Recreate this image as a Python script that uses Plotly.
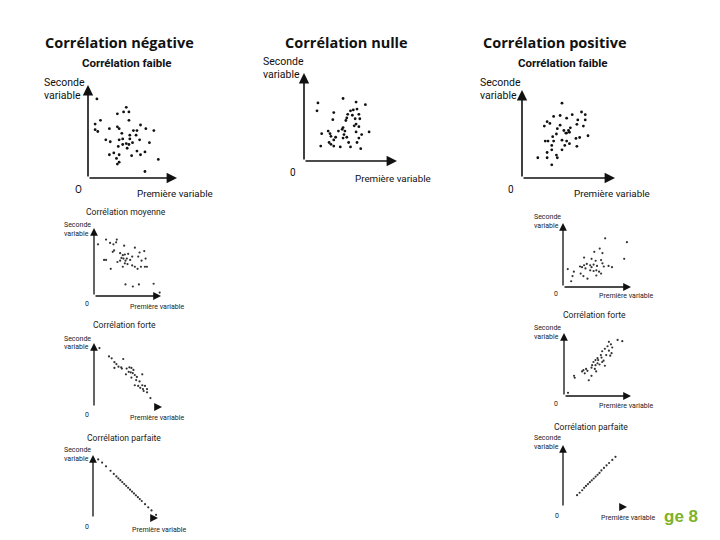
import plotly.graph_objects as go

# the page body has an 8 px margin, so the figure is drawn 8 px smaller and offset
OFF = 8
W, H = 720 - OFF, 540 - OFF

# ---------------- data (axis units: origin = 0, arrow tip = 100) ----------------
neg_faible_x = [10, 43, 40, 46, 33, 14, 46, 8, 59, 33, 35, 8, 11, 24, 65, 51, 55, 74, 38, 47, 54, 20, 25, 35, 39, 47, 58, 69, 43, 46, 50, 34, 39, 44, 29, 24, 35, 55, 64, 49, 59, 32, 79, 35, 33, 64]
neg_faible_y = [85, 76, 71, 71, 69, 62, 62, 58, 57, 55, 53, 52, 50, 53, 53, 51, 51, 51, 48, 46, 46, 41, 39, 41, 42, 42, 41, 38, 37, 36, 38, 34, 36, 32, 27, 25, 25, 29, 28, 24, 25, 21, 20, 17, 15, 7]

nulle_x = [15, 14, 42, 56, 66, 32, 50, 47, 53, 57, 59, 46, 52, 55, 60, 31, 45, 56, 59, 54, 42, 26, 37, 41, 44, 19, 28, 56, 62, 70, 43, 29, 34, 46, 32, 59, 27, 42, 48, 57, 29, 32, 18, 39, 50, 61]
nulle_y = [66, 57, 71, 67, 64, 55, 57, 53, 58, 59, 53, 49, 52, 48, 48, 47, 46, 42, 39, 40, 38, 34, 34, 36, 34, 31, 31, 33, 30, 33, 30, 28, 27, 27, 24, 26, 21, 26, 21, 21, 19, 17, 17, 16, 16, 14]

pos_faible_x = [43, 64, 68, 54, 41, 34, 48, 60, 68, 27, 30, 59, 24, 41, 66, 52, 38, 45, 50, 51, 48, 37, 47, 71, 33, 58, 62, 25, 28, 34, 43, 48, 32, 46, 51, 59, 43, 32, 27, 37, 27, 17, 38, 32]
pos_faible_y = [85, 75, 72, 72, 71, 70, 68, 66, 66, 64, 62, 61, 59, 60, 59, 57, 56, 54, 54, 52, 51, 50, 51, 48, 47, 45, 46, 42, 42, 42, 43, 42, 37, 37, 39, 36, 32, 32, 29, 26, 23, 23, 23, 15]

neg_moy_x = [6, 18, 24, 34, 33, 29, 45, 61, 30, 28, 39, 43, 46, 51, 75, 68, 57, 41, 44, 49, 47, 39, 66, 77, 15, 18, 35, 54, 71, 46, 50, 43, 57, 61, 70, 76, 79, 25, 65, 47, 58, 67, 89, 98]
neg_moy_y = [76, 83, 78, 83, 79, 76, 74, 71, 67, 65, 63, 60, 61, 62, 66, 64, 58, 56, 55, 55, 52, 52, 58, 55, 53, 53, 50, 53, 52, 48, 47, 43, 45, 43, 43, 43, 43, 40, 40, 17, 14, 17, 18, 5]

neg_forte_x = [8, 22, 26, 43, 30, 33, 36, 40, 30, 41, 48, 52, 55, 58, 51, 54, 57, 47, 60, 71, 63, 55, 62, 67, 71, 60, 65, 75, 68, 72, 78, 73, 78, 83]
neg_forte_y = [92, 79, 76, 75, 70, 67, 63, 62, 61, 60, 60, 62, 61, 58, 55, 54, 53, 51, 50, 51, 47, 46, 42, 40, 34, 34, 33, 33, 30, 28, 28, 25, 23, 14]

neg_parf_x = [8, 14, 20, 27, 32, 36, 39, 42, 45, 48, 51, 54, 57, 60, 63, 66, 69, 72, 75, 80, 85, 90, 97]
neg_parf_y = [93, 88, 82, 75, 70, 66, 63, 60, 57, 54, 51, 48, 45, 42, 39, 36, 33, 30, 27, 22, 17, 12, 5]

pos_moy_x = [62, 94, 54, 46, 58, 90, 31, 42, 48, 56, 35, 31, 40, 45, 50, 58, 60, 67, 72, 25, 28, 33, 42, 7, 16, 40, 45, 49, 53, 56, 26, 14, 30, 49, 36, 12]
pos_moy_y = [76, 70, 60, 55, 53, 44, 46, 44, 41, 42, 36, 34, 34, 35, 33, 37, 32, 33, 31, 32, 31, 29, 31, 28, 24, 26, 25, 26, 24, 21, 21, 17, 17, 18, 13, 9]

pos_forte_x = [80, 87, 67, 70, 65, 72, 61, 67, 57, 71, 55, 63, 69, 50, 56, 47, 51, 59, 44, 50, 57, 42, 47, 53, 61, 41, 46, 29, 33, 35, 27, 48, 31, 15, 16, 41, 37, 6]
pos_forte_y = [89, 87, 86, 82, 79, 77, 75, 72, 71, 68, 65, 65, 64, 60, 61, 57, 57, 56, 54, 52, 54, 49, 49, 50, 48, 45, 43, 41, 43, 40, 39, 39, 36, 32, 29, 32, 25, 5]

pos_parf_x = [22, 26, 30, 33, 36, 39, 42, 45, 48, 51, 54, 57, 60, 64, 68, 72, 77, 82]
pos_parf_y = [19, 23, 27, 31, 34, 37, 40, 43, 46, 49, 52, 55, 59, 63, 67, 71, 76, 81]

# ---------------- layout helpers (screen pixels -> paper fraction) ----------------
def px(x):
    return (x - OFF) / W

def py(y):
    return 1 - (y - OFF) / H

NARROW = "Roboto, Liberation Sans, sans-serif"
BOLD = "Open Sans, Noto Sans, sans-serif"

panels = [
    dict(x=neg_faible_x, y=neg_faible_y, o=(88, 178), tx=177, ty=85, big=True, xline=True),
    dict(x=nulle_x, y=nulle_y, o=(304, 161), tx=397, ty=73, big=True, xline=True),
    dict(x=pos_faible_x, y=pos_faible_y, o=(522, 178), tx=615, ty=90, big=True, xline=True),
    dict(x=neg_moy_x, y=neg_moy_y, o=(94, 296), tx=161, ty=228, big=False, xline=True),
    dict(x=neg_forte_x, y=neg_forte_y, o=(94, 407), tx=162, ty=343, big=False, xline=False),
    dict(x=neg_parf_x, y=neg_parf_y, o=(93, 518), tx=158, ty=455, big=False, xline=False),
    dict(x=pos_moy_x, y=pos_moy_y, o=(563, 287), tx=631, ty=223, big=False, xline=True),
    dict(x=pos_forte_x, y=pos_forte_y, o=(564, 396), tx=631, ty=333, big=False, xline=True),
    dict(x=pos_parf_x, y=pos_parf_y, o=(563, 507), tx=627, ty=445, big=False, xline=False),
]

fig = go.Figure()
annotations = []
layout_axes = {}

for i, p in enumerate(panels, start=1):
    xa = "xaxis" if i == 1 else f"xaxis{i}"
    ya = "yaxis" if i == 1 else f"yaxis{i}"
    xr = "x" if i == 1 else f"x{i}"
    yr = "y" if i == 1 else f"y{i}"
    ox, oy = p["o"]
    layout_axes[xa] = dict(domain=[px(ox), px(p["tx"])], range=[0, 100], visible=False,
                           anchor=yr, fixedrange=True)
    layout_axes[ya] = dict(domain=[py(oy), py(p["ty"])], range=[0, 100], visible=False,
                           anchor=xr, fixedrange=True)
    fig.add_trace(go.Scatter(
        x=p["x"], y=p["y"], mode="markers", xaxis=xr, yaxis=yr, showlegend=False,
        marker=dict(size=2.8 if p["big"] else 2.2, color="#111" if p["big"] else "#333",
                    line=dict(width=0)),
        hoverinfo="skip"))
    lw = 1.6 if p["big"] else 1.3
    asz = 1.3 if p["big"] else 1.2
    annotations.append(dict(x=0, y=100, ax=0, ay=0, xref=xr, yref=yr, axref=xr, ayref=yr,
                            text="", showarrow=True, arrowhead=2, arrowsize=asz,
                            arrowwidth=lw, arrowcolor="#111", standoff=0, startstandoff=0))
    annotations.append(dict(x=100, y=0, ax=0 if p["xline"] else 90, ay=0, xref=xr, yref=yr,
                            axref=xr, ayref=yr, text="", showarrow=True, arrowhead=2,
                            arrowsize=asz, arrowwidth=lw, arrowcolor="#111",
                            standoff=0, startstandoff=0))

def txt(s, x, y, size, family=NARROW, color="#111", xanchor="left", bold=False):
    annotations.append(dict(text=f"<b>{s}</b>" if bold else s, x=px(x), y=py(y),
                            xref="paper", yref="paper", xanchor=xanchor, yanchor="middle",
                            showarrow=False, font=dict(size=size, family=family, color=color)))

# main titles
txt("Corrélation négative", 43, 42, 14.5, BOLD, bold=True)
txt("Corrélation nulle", 283, 42, 14.5, BOLD, bold=True)
txt("Corrélation positive", 481, 42, 14.5, BOLD, bold=True)

# sub titles (big panels)
txt("Corrélation faible", 127, 63, 11.5, bold=True, xanchor="center")
txt("Corrélation faible", 563, 63, 11.5, bold=True, xanchor="center")

# big panel axis labels
for sx, sy1, sy2, zx, zy, zt, fx, fy in [
    (42, 82, 95, 78, 190, "O", 175, 193),
    (261, 61, 75, 293, 172, "0", 393, 178),
    (478, 82, 95, 511, 189, "0", 612, 193),
]:
    txt("Seconde", sx, sy1, 10.5)
    txt("variable", sx, sy2, 10.5)
    txt(zt, zx, zy, 10, xanchor="center")
    txt("Première variable", fx, fy, 9.8, xanchor="center")

# small panel titles
txt("Corrélation moyenne", 126, 212, 8.6, color="#222", xanchor="center")
txt("Corrélation forte", 124, 325, 8.6, color="#222", xanchor="center")
txt("Corrélation parfaite", 124, 438, 8.6, color="#222", xanchor="center")
txt("Corrélation forte", 594, 315, 8.6, color="#222", xanchor="center")
txt("Corrélation parfaite", 591, 427, 8.6, color="#222", xanchor="center")

SMALL = 7
for sx, sy1, sy2, zx, zy, fx, fy in [
    (62, 225, 234, 87, 304, 157, 307),
    (62, 339, 347, 87, 415, 157, 418),
    (62, 450, 459, 87, 527, 159, 530),
    (532, 217, 226, 556, 294, 626, 296),
    (532, 328, 337, 556, 404, 626, 406),
    (532, 438, 447, 557, 516, 628, 518),
]:
    txt("Seconde", sx, sy1, SMALL, color="#222")
    txt("variable", sx, sy2, SMALL, color="#222")
    txt("0", zx, zy, SMALL, color="#222", xanchor="center")
    txt("Première variable", fx, fy, SMALL, color="#222", xanchor="center")

# green page footer fragment
txt("ge 8", 662, 516, 17, "Liberation Sans, Arial, sans-serif", color="#7db225", bold=True)

fig.update_layout(
    width=W, height=H, margin=dict(l=0, r=0, t=0, b=0),
    paper_bgcolor="white", plot_bgcolor="rgba(0,0,0,0)",
    annotations=annotations, **layout_axes)

fig.write_html("out.html")
